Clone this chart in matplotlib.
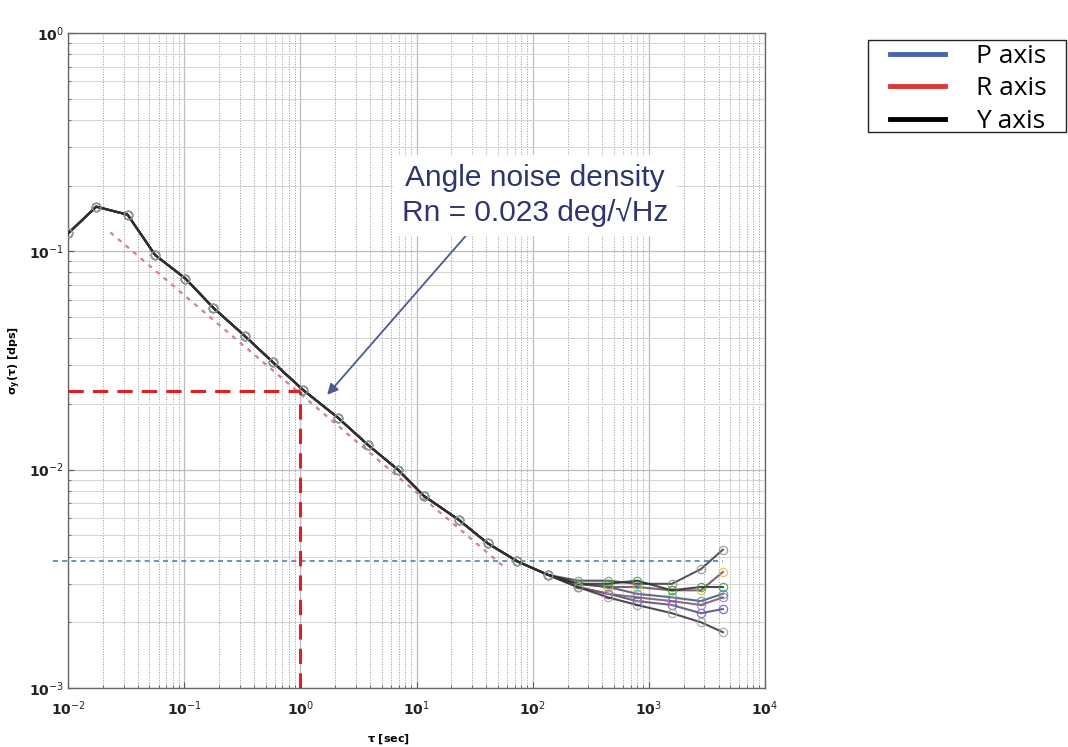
import math
import matplotlib
matplotlib.use("Agg")
import matplotlib.pyplot as plt
from matplotlib.lines import Line2D
from matplotlib.patches import Rectangle
from matplotlib.ticker import LogLocator, FuncFormatter, NullFormatter

# averaging times and Allan deviation
tau_base = [0.01, 0.0174, 0.0324, 0.056, 0.102, 0.178, 0.33, 0.58, 1.05,
            2.1, 3.8, 6.9, 11.5, 23, 41, 74, 135]
adev_base = [0.121, 0.160, 0.147, 0.096, 0.075, 0.055, 0.041, 0.031, 0.0232,
             0.0173, 0.0130, 0.0100, 0.0076, 0.0059, 0.0046, 0.0038, 0.0033]

tau_tail = [245, 447, 794, 1585, 2818, 4365]
tails = {
    "P1": [0.0030, 0.0029, 0.0027, 0.0026, 0.0025, 0.0027],
    "P2": [0.0029, 0.0027, 0.0025, 0.0024, 0.0022, 0.0023],
    "R1": [0.0030, 0.0029, 0.0029, 0.0028, 0.0028, 0.0034],
    "R2": [0.0029, 0.0027, 0.0026, 0.0025, 0.0024, 0.0026],
    "Y1": [0.0031, 0.0031, 0.0030, 0.0030, 0.0035, 0.0043],
    "Y2": [0.0030, 0.0030, 0.0031, 0.0028, 0.0029, 0.0029],
    "Y3": [0.0029, 0.0026, 0.0024, 0.0022, 0.0020, 0.0018],
}
line_colors = {"P1": "#46506a", "P2": "#4a4e78", "R1": "#6a4a4e", "R2": "#7a5560",
               "Y1": "#3a3a3a", "Y2": "#2a2a2a", "Y3": "#303030"}
marker_colors = {"P1": "#20b0c0", "P2": "#6a5acd", "R1": "#e0c040", "R2": "#d060c0",
                 "Y1": "#909090", "Y2": "#40a040", "Y3": "#a0a0a0"}

# reference lines
arw_tau = [0.023, 60]
arw_val = [0.122, 0.0035]
rn_tau = 1.0
rn_val = 0.023
bias_val = 0.0038
bias_tau = [0.0074, 4365]

x_ticks = [1e-2, 1e-1, 1e0, 1e1, 1e2, 1e3, 1e4]
y_ticks = [1e-3, 1e-2, 1e-1, 1e0]

legend_labels = ["P axis", "R axis", "Y axis"]
legend_colors = ["#4a62b0", "#e03535", "#000000"]

fig = plt.figure(figsize=(10.68, 7.47), dpi=100)
ax = fig.add_axes([0.064, 0.079, 0.652, 0.877])
ax.set_xscale("log")
ax.set_yscale("log")
ax.set_xlim(1e-2, 1e4)
ax.set_ylim(1e-3, 1e0)

ax.set_xticks(x_ticks)
ax.set_yticks(y_ticks)
ax.xaxis.set_minor_locator(LogLocator(base=10, subs=range(2, 10), numticks=100))
ax.yaxis.set_minor_locator(LogLocator(base=10, subs=range(2, 10), numticks=100))
ax.xaxis.set_minor_formatter(NullFormatter())
ax.yaxis.set_minor_formatter(NullFormatter())
fmt = FuncFormatter(lambda v, p: r"$\mathbf{10}^{%d}$" % round(math.log10(v)))
ax.xaxis.set_major_formatter(fmt)
ax.yaxis.set_major_formatter(fmt)
ax.tick_params(which="both", direction="in", colors="#555555", labelcolor="#222222",
               labelsize=10)
ax.tick_params(which="major", length=4)
ax.tick_params(which="minor", length=2.5)
ax.tick_params(axis="x", pad=8)

ax.grid(True, which="major", color="#bdbdbd", lw=0.9, ls="-")
ax.grid(True, which="minor", axis="y", color="#d4d4d4", lw=0.7, ls="-")
ax.grid(True, which="minor", axis="x", color="#9a9a9a", lw=0.7, ls=":")
for s in ax.spines.values():
    s.set_color("#666666")
    s.set_linewidth(1.0)

for name, tail in tails.items():
    ax.plot(tau_base + tau_tail, adev_base + tail, color=line_colors[name], lw=1.5,
            marker="o", ms=6, mfc="none", mec=marker_colors[name], mew=0.9, alpha=0.85,
            zorder=3)

ax.plot(arw_tau, arw_val, ls=(0, (2, 2.5)), color="#d08090", lw=1.6, zorder=2)
ax.plot([1e-2, rn_tau], [rn_val, rn_val], ls=(0, (5, 3)), color="#e02020", lw=2.2, zorder=4)
ax.plot([rn_tau, rn_tau], [1e-3, rn_val], ls=(0, (5, 3)), color="#e02020", lw=2.2, zorder=4)
ax.plot(bias_tau, [bias_val, bias_val], ls=(0, (3, 2.5)), color="#4a80b8", lw=1.2,
        clip_on=False, zorder=2)

ax.annotate("Angle noise density\nRn = 0.023 deg/\u221aHz",
            xy=(1.7, 0.022), xytext=(105, 0.18),
            ha="center", va="center", fontsize=21.5, color="#2e3470",
            family=["Liberation Sans", "DejaVu Sans"], linespacing=1.2,
            bbox=dict(boxstyle="square,pad=0.3", fc="white", ec="none"),
            arrowprops=dict(arrowstyle="-|>", color="#4c5a8c", lw=1.3,
                            mutation_scale=16, shrinkA=0, shrinkB=0,
                            relpos=(0.27, 0.0)),
            zorder=6)

ax.set_xlabel(r"$\mathbf{\tau}$ [sec]", fontsize=8, fontweight="bold", labelpad=2)
ax.set_ylabel(r"$\mathbf{\sigma_y(\tau)}$ [dps]", fontsize=8, fontweight="bold", labelpad=4)
ax.xaxis.set_label_coords(0.46, -0.068)

# legend outside the axes, frame drawn separately to get the wide side padding
handles = [Line2D([], [], color=c, lw=3.5) for c in legend_colors]
fig.legend(handles, legend_labels, loc="upper left",
           bbox_to_anchor=(890 / 1068, 1 - 44 / 747), handlelength=2.1,
           handletextpad=1.15, labelspacing=0.28, borderpad=0.0,
           borderaxespad=0.0, frameon=False,
           prop={"family": ["Open Sans", "DejaVu Sans"], "size": 19})
fig.patches.append(Rectangle((868 / 1068, 1 - 132 / 747), 198 / 1068, 92 / 747,
                             transform=fig.transFigure, fill=False,
                             ec="#222222", lw=1.0))

fig.savefig("out.png", dpi=100)
